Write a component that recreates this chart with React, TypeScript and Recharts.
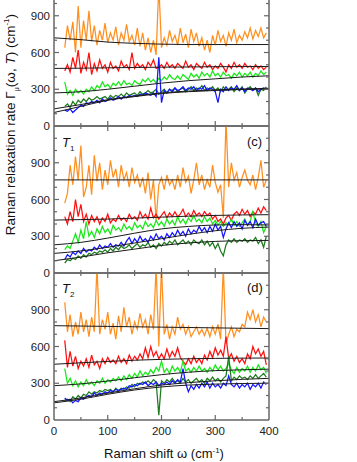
import React from "react";
import { LineChart, Line, XAxis, YAxis } from "recharts";

// Raman shift (cm^-1) sampling of the measured spectra
const shift = [
  20, 25, 30, 35, 40, 45, 50, 55, 60, 65,
  70, 75, 80, 85, 90, 95, 100, 105, 110, 115,
  120, 125, 130, 135, 140, 145, 150, 155, 160, 165,
  170, 175, 180, 185, 190, 195, 200, 205, 210, 215,
  220, 225, 230, 235, 240, 245, 250, 255, 260, 265,
  270, 275, 280, 285, 290, 295, 300, 305, 310, 315,
  320, 325, 330, 335, 340, 345, 350, 355, 360, 365,
  370, 375, 380, 385, 390, 395,
];
const fitShift = [0, 50, 100, 150, 200, 250, 300, 350, 400];

// panel (b) - top, cropped
const bOrange = [
  640, 820, 700, 850, 600, 980, 640, 860, 700, 940,
  690, 820, 660, 780, 700, 840, 680, 760, 700, 810,
  660, 760, 700, 830, 690, 740, 660, 800, 650, 760,
  620, 720, 600, 700, 580, 1150, 640, 720, 660, 780,
  690, 740, 660, 800, 680, 750, 640, 790, 690, 760,
  650, 720, 620, 700, 600, 740, 660, 780, 690, 740,
  650, 760, 700, 790, 680, 740, 700, 770, 720, 800,
  710, 780, 730, 800, 720, 760,
];
const bRed = [
  450, 500, 440, 560, 470, 620, 430, 520, 460, 600,
  420, 510, 450, 540, 470, 500, 440, 520, 470, 490,
  450, 530, 480, 500, 460, 600, 470, 510, 480, 500,
  460, 520, 490, 540, 470, 480, 500, 470, 520, 480,
  500, 470, 510, 490, 470, 530, 480, 500, 460, 510,
  490, 470, 520, 480, 500, 460, 490, 470, 510, 480,
  440, 500, 470, 520, 480, 500, 470, 510, 480, 490,
  460, 500, 470, 490, 460, 480,
];
const bGreen = [
  360, 260, 290, 250, 300, 270, 290, 260, 300, 280,
  320, 290, 330, 310, 360, 320, 340, 310, 350, 330,
  360, 330, 370, 340, 350, 330, 370, 350, 340, 380,
  360, 390, 360, 380, 350, 390, 370, 400, 380, 420,
  390, 380, 410, 380, 420, 400, 380, 430, 400, 420,
  390, 440, 410, 430, 400, 450, 410, 430, 400, 440,
  410, 420, 390, 430, 410, 440, 400, 430, 410, 440,
  400, 430, 410, 450, 420, 440,
];
const bBlue = [
  130, 120, 140, 110, 130, 150, 170, 160, 190, 180,
  200, 190, 210, 190, 220, 200, 210, 230, 210, 220,
  240, 220, 240, 230, 250, 240, 250, 240, 260, 250,
  270, 260, 250, 270, 240, 560, 190, 290, 270, 300,
  280, 310, 290, 300, 320, 290, 310, 300, 320, 290,
  310, 300, 330, 290, 310, 300, 280, 190, 300, 280,
  320, 290, 310, 300, 330, 290, 310, 280, 310, 300,
  290, 310, 280, 300, 310, 300,
];
const bDkGreen = [
  160, 180, 150, 200, 170, 210, 190, 220, 200, 230,
  210, 220, 240, 220, 230, 240, 220, 250, 230, 250,
  240, 260, 240, 270, 250, 260, 270, 250, 280, 260,
  270, 290, 270, 280, 300, 260, 280, 300, 270, 300,
  290, 310, 280, 300, 310, 280, 300, 320, 290, 310,
  300, 330, 290, 310, 300, 320, 290, 310, 280, 320,
  290, 300, 320, 280, 310, 290, 320, 270, 300, 320,
  290, 310, 250, 300, 290, 320,
];
const bFits = [
  [720, 705, 685, 675, 668, 665, 665, 665, 665],
  [470, 472, 475, 478, 480, 482, 484, 485, 486],
  [270, 280, 300, 325, 350, 370, 385, 400, 410],
  [110, 160, 210, 240, 265, 280, 290, 298, 302],
  [140, 175, 215, 245, 270, 285, 295, 302, 308],
];

// panel (c) - T1
const cOrange = [
  570, 650, 880, 720, 950, 760, 1040, 620, 700, 880,
  640, 960, 750, 900, 680, 840, 720, 920, 780, 850,
  700, 880, 760, 820, 700, 860, 740, 800, 700, 780,
  650, 820, 600, 760, 430, 720, 780, 680, 800, 720,
  760, 680, 800, 700, 860, 740, 790, 650, 760, 900,
  720, 800, 680, 760, 700, 880, 740, 660, 720, 450,
  1250, 700, 900, 760, 820, 700, 780, 840, 760, 720,
  800, 680, 780, 920, 700, 760,
];
const cRed = [
  460, 400, 500, 420, 600, 460, 560, 420, 480, 400,
  470, 420, 460, 400, 450, 420, 480, 410, 440, 420,
  470, 430, 450, 420, 480, 440, 460, 430, 500, 450,
  480, 440, 530, 450, 480, 440, 470, 500, 450, 490,
  460, 500, 460, 480, 520, 460, 490, 460, 510, 470,
  490, 460, 500, 470, 490, 440, 470, 420, 440, 400,
  450, 470, 430, 480, 500, 470, 520, 480, 510, 460,
  500, 480, 530, 490, 540, 510,
];
const cGreen = [
  190, 220, 200, 260, 320, 250, 350, 280, 420, 300,
  340, 290, 360, 320, 380, 330, 360, 320, 390, 350,
  370, 340, 400, 360, 380, 350, 410, 370, 390, 360,
  420, 380, 400, 370, 430, 390, 420, 380, 440, 400,
  430, 390, 460, 410, 440, 400, 450, 420, 470, 420,
  440, 410, 460, 420, 450, 400, 430, 390, 420, 380,
  410, 400, 440, 390, 420, 380, 410, 440, 390, 420,
  500, 410, 380, 420, 330, 380,
];
const cBlue = [
  110, 150, 130, 170, 150, 180, 160, 200, 170, 190,
  180, 210, 190, 230, 200, 220, 210, 240, 210, 230,
  220, 250, 220, 260, 290, 240, 280, 250, 300, 260,
  280, 250, 300, 270, 320, 280, 300, 270, 320, 290,
  330, 300, 350, 310, 340, 300, 360, 320, 350, 330,
  380, 340, 370, 330, 380, 340, 400, 350, 380, 290,
  360, 410, 370, 420, 380, 410, 360, 430, 390, 420,
  370, 440, 390, 410, 420, 380,
];
const cDkGreen = [
  80, 110, 100, 120, 110, 140, 120, 150, 130, 160,
  150, 170, 160, 180, 170, 190, 170, 200, 180, 210,
  190, 220, 200, 210, 230, 200, 220, 240, 210, 230,
  220, 250, 210, 230, 200, 240, 220, 250, 230, 260,
  240, 270, 230, 250, 270, 240, 260, 230, 270, 250,
  240, 270, 230, 260, 220, 250, 200, 240, 180, 140,
  230, 270, 250, 280, 250, 270, 260, 280, 250, 270,
  260, 290, 240, 270, 210, 300,
];
const cFits = [
  [760, 760, 760, 760, 760, 760, 760, 760, 760],
  [432, 436, 440, 448, 456, 464, 470, 474, 476],
  [230, 250, 285, 325, 360, 380, 392, 395, 392],
  [160, 180, 210, 245, 280, 315, 345, 365, 375],
  [100, 130, 165, 195, 225, 245, 258, 264, 266],
];

// panel (d) - T2
const dOrange = [
  960, 720, 860, 680, 800, 700, 880, 720, 820, 680,
  840, 720, 1250, 700, 820, 740, 880, 700, 790, 660,
  850, 720, 920, 760, 840, 700, 800, 740, 870, 760,
  820, 700, 860, 740, 1250, 600, 1250, 700, 780, 660,
  760, 700, 840, 740, 780, 700, 760, 680, 720, 760,
  700, 740, 690, 750, 680, 760, 700, 780, 660, 1250,
  620, 700, 760, 680, 740, 720, 780, 760, 880, 820,
  900, 800, 860, 760, 840, 800,
];
const dRed = [
  650, 430, 560, 440, 520, 420, 480, 440, 500, 430,
  530, 450, 480, 420, 500, 460, 510, 470, 490, 460,
  520, 470, 500, 460, 530, 480, 520, 490, 540, 500,
  590, 510, 600, 520, 560, 500, 540, 500, 580, 510,
  560, 520, 590, 510, 480, 450, 500, 460, 520, 470,
  500, 460, 530, 490, 560, 510, 590, 530, 570, 520,
  680, 500, 540, 480, 520, 470, 500, 460, 540, 500,
  600, 540, 580, 520, 560, 450,
];
const dGreen = [
  420, 300, 340, 280, 320, 270, 310, 280, 330, 290,
  310, 280, 320, 300, 340, 300, 330, 310, 340, 320,
  350, 320, 360, 330, 370, 340, 380, 350, 400, 360,
  390, 370, 410, 380, 430, 400, 480, 390, 420, 380,
  440, 400, 430, 390, 480, 400, 420, 390, 430, 400,
  440, 400, 420, 390, 430, 400, 450, 410, 440, 400,
  420, 460, 410, 380, 430, 390, 420, 400, 440, 390,
  430, 400, 450, 410, 430, 380,
];
const dBlue = [
  180, 160, 170, 140, 160, 150, 180, 170, 190, 200,
  190, 220, 200, 220, 210, 230, 220, 240, 230, 250,
  240, 250, 260, 250, 280, 270, 290, 280, 300, 290,
  310, 280, 300, 290, 310, 280, 300, 290, 310, 290,
  320, 300, 330, 310, 420, 300, 230, 280, 250, 290,
  260, 300, 270, 310, 260, 300, 270, 290, 260, 300,
  280, 360, 290, 270, 300, 260, 290, 270, 300, 250,
  290, 270, 300, 260, 310, 290,
];
const dDkGreen = [
  160, 170, 150, 190, 170, 200, 180, 210, 200, 230,
  210, 230, 220, 240, 230, 250, 240, 250, 230, 260,
  240, 260, 250, 270, 260, 290, 270, 300, 290, 310,
  300, 320, 300, 330, 310, 40, 320, 300, 330, 310,
  340, 310, 320, 300, 340, 310, 330, 300, 320, 340,
  310, 330, 300, 340, 320, 350, 320, 340, 310, 340,
  360, 520, 320, 350, 330, 360, 340, 350, 330, 360,
  340, 370, 340, 360, 380, 350,
];
const dFits = [
  [770, 767, 764, 761, 758, 755, 752, 749, 746],
  [455, 467, 478, 488, 495, 500, 503, 505, 506],
  [280, 295, 318, 345, 370, 390, 403, 410, 415],
  [140, 170, 210, 245, 270, 285, 293, 298, 300],
  [150, 180, 220, 255, 285, 305, 320, 332, 340],
];

const xTicks = [0, 50, 100, 150, 200, 250, 300, 350, 400];
const yTicks = [0, 100, 200, 300, 400, 500, 600, 700, 800, 900, 1000, 1100, 1200];

const COLORS = {
  orange: "#ff8f1f",
  red: "#ff1010",
  green: "#18e818",
  blue: "#1414ff",
  dkgreen: "#1d7a1d",
};
const FRAME = "#666";
const FONT = "'Liberation Sans', Arial, Helvetica, sans-serif";

function buildRows(o: number[], r: number[], g: number[], b: number[], k: number[]) {
  return shift.map((x, i) => ({ x, orange: o[i], red: r[i], green: g[i], blue: b[i], dkgreen: k[i] }));
}

function buildFit(vals: number[]) {
  return fitShift.map((x, i) => ({ x, v: vals[i] }));
}

// inward-pointing ticks, labels only where the axis needs them
function makeTick(side: "bottom" | "top" | "left" | "right", labels: boolean) {
  return (props: any) => {
    const { x, y, payload } = props;
    const v = payload.value;
    const isX = side === "bottom" || side === "top";
    const edge = isX ? v === 0 || v === 400 : v === 0 || v === 1200;
    const major = isX ? v % 100 === 0 : v % 300 === 0;
    const len = major ? 5 : 3;
    let line = null;
    if (!edge) {
      if (side === "bottom") line = <line x1={x} x2={x} y1={y} y2={y - len} />;
      if (side === "top") line = <line x1={x} x2={x} y1={y} y2={y + len} />;
      if (side === "left") line = <line x1={x} x2={x + len} y1={y} y2={y} />;
      if (side === "right") line = <line x1={x} x2={x - len} y1={y} y2={y} />;
    }
    let label = null;
    if (labels && side === "bottom" && v % 100 === 0) {
      label = (
        <text x={x} y={y + 15} textAnchor="middle" fill="#222" stroke="none" fontSize={11.5} fontFamily={FONT}>
          {v}
        </text>
      );
    }
    if (labels && side === "left" && v % 300 === 0 && v < 1200) {
      label = (
        <text x={x - 4} y={y + 4} textAnchor="end" fill="#222" stroke="none" fontSize={11.5} fontFamily={FONT}>
          {v}
        </text>
      );
    }
    return (
      <g stroke={FRAME} strokeWidth={1.2}>
        {line}
        {label}
      </g>
    );
  };
}

interface PanelProps {
  top: number;
  height: number;
  rows: any[];
  fits: number[][];
  xLabels: boolean;
}

function Panel({ top, height, rows, fits, xLabels }: PanelProps) {
  const axisLine = { stroke: FRAME, strokeWidth: 1.5 };
  const sw = 1.25;
  return (
    <div style={{ position: "absolute", left: 0, top }}>
      <LineChart
        width={357}
        height={height}
        data={rows}
        margin={{ top: 6, right: 80, bottom: xLabels ? 0 : 6, left: 0 }}
      >
        <XAxis
          xAxisId="top"
          orientation="top"
          type="number"
          dataKey="x"
          domain={[0, 400]}
          ticks={xTicks}
          height={2}
          axisLine={axisLine}
          tickLine={false}
          tickSize={0}
          tickMargin={0}
          interval={0}
          tick={makeTick("top", false)}
        />
        <XAxis
          type="number"
          dataKey="x"
          domain={[0, 400]}
          ticks={xTicks}
          height={xLabels ? 20 : 2}
          axisLine={axisLine}
          tickLine={false}
          tickSize={0}
          tickMargin={0}
          interval={0}
          tick={makeTick("bottom", xLabels)}
        />
        <YAxis
          type="number"
          domain={[0, 1200]}
          allowDataOverflow
          ticks={yTicks}
          width={54}
          axisLine={axisLine}
          tickLine={false}
          tickSize={0}
          tickMargin={0}
          interval={0}
          tick={makeTick("left", true)}
        />
        <YAxis
          yAxisId="r"
          orientation="right"
          type="number"
          domain={[0, 1200]}
          allowDataOverflow
          ticks={yTicks}
          width={8}
          axisLine={axisLine}
          tickLine={false}
          tickSize={0}
          tickMargin={0}
          interval={0}
          tick={makeTick("right", false)}
        />
        <Line dataKey="orange" stroke={COLORS.orange} strokeWidth={sw} dot={false} activeDot={false} isAnimationActive={false} />
        <Line dataKey="red" stroke={COLORS.red} strokeWidth={sw} dot={false} activeDot={false} isAnimationActive={false} />
        <Line dataKey="green" stroke={COLORS.green} strokeWidth={sw} dot={false} activeDot={false} isAnimationActive={false} />
        <Line dataKey="dkgreen" stroke={COLORS.dkgreen} strokeWidth={sw} dot={false} activeDot={false} isAnimationActive={false} />
        <Line dataKey="blue" stroke={COLORS.blue} strokeWidth={sw} dot={false} activeDot={false} isAnimationActive={false} />
        {fits.map((f, i) => (
          <Line
            key={i}
            data={buildFit(f)}
            dataKey="v"
            type="monotone"
            stroke="#1a1a1a"
            strokeWidth={1}
            dot={false}
            activeDot={false}
            isAnimationActive={false}
          />
        ))}
      </LineChart>
    </div>
  );
}

const textStyle: React.CSSProperties = {
  position: "absolute",
  fontFamily: FONT,
  color: "#111",
  fontSize: 13,
  lineHeight: "14px",
  whiteSpace: "nowrap",
};

export default function App() {
  const bRows = buildRows(bOrange, bRed, bGreen, bBlue, bDkGreen);
  const cRows = buildRows(cOrange, cRed, cGreen, cBlue, cDkGreen);
  const dRows = buildRows(dOrange, dRed, dGreen, dBlue, dDkGreen);
  return (
    <div
      style={{
        position: "absolute",
        left: 0,
        top: 0,
        width: 357,
        height: 462,
        overflow: "hidden",
        background: "#fff",
      }}
    >
      <Panel top={-29} height={163} rows={bRows} fits={bFits} xLabels={false} />
      <Panel top={118} height={163} rows={cRows} fits={cFits} xLabels={false} />
      <Panel top={265} height={175} rows={dRows} fits={dFits} xLabels={true} />

      <div style={{ ...textStyle, left: 62, top: 136 }}>
        <i>T</i>
        <sub style={{ fontSize: 8 }}>1</sub>
      </div>
      <div style={{ ...textStyle, left: 247, top: 135 }}>(c)</div>
      <div style={{ ...textStyle, left: 62, top: 282 }}>
        <i>T</i>
        <sub style={{ fontSize: 8 }}>2</sub>
      </div>
      <div style={{ ...textStyle, left: 247, top: 281 }}>(d)</div>

      <div
        style={{
          ...textStyle,
          fontSize: 13.5,
          left: 12 - 160,
          top: 120 - 7,
          width: 320,
          textAlign: "center",
          transform: "rotate(-90deg)",
        }}
      >
        Raman relaxation rate Γ<sub style={{ fontSize: 7 }}>μ</sub>(ω, <i>T</i>) (cm
        <sup style={{ fontSize: 8 }}>-1</sup>)
      </div>
      <div style={{ ...textStyle, left: 164 - 100, top: 444, width: 200, textAlign: "center" }}>
        Raman shift ω (cm<sup style={{ fontSize: 8 }}>-1</sup>)
      </div>
    </div>
  );
}
